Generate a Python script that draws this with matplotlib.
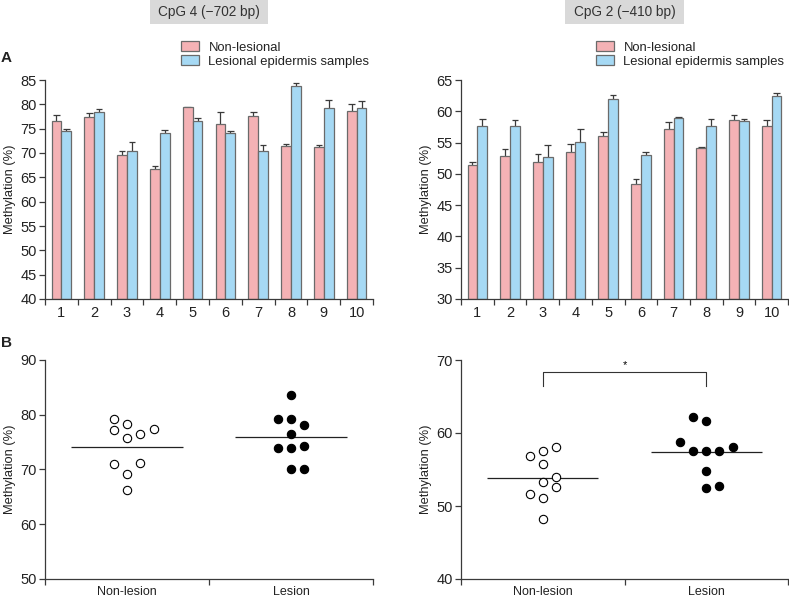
import numpy as np
import matplotlib
matplotlib.use('Agg')
import matplotlib.pyplot as plt
from matplotlib.patches import Patch, Rectangle

plt.rcParams['font.family'] = ['Liberation Sans', 'DejaVu Sans']
plt.rcParams['font.size'] = 9

PINK, BLUE, EDGE, AX = '#f4b2b5', '#a6d9f4', '#6a6a6a', '#3a3a3a'

# --- data: panel A (bar charts, mean + upper SD) ---
samples = [str(i) for i in range(1, 11)]
cpg4_non = [76.6, 77.4, 69.5, 66.7, 79.4, 76.0, 77.5, 71.5, 71.25, 78.6]
cpg4_non_err = [1.2, 0.8, 1.0, 0.7, 0.15, 2.4, 0.9, 0.3, 0.45, 1.4]
cpg4_les = [74.5, 78.4, 70.4, 74.1, 76.5, 74.1, 70.4, 83.7, 79.3, 79.3]
cpg4_les_err = [0.45, 0.7, 1.9, 0.7, 0.6, 0.5, 1.3, 0.6, 1.5, 1.3]

cpg2_non = [51.4, 52.8, 51.9, 53.5, 56.0, 48.4, 57.1, 54.15, 58.6, 57.7]
cpg2_non_err = [0.5, 1.1, 1.3, 1.2, 0.7, 0.75, 1.25, 0.08, 0.8, 0.9]
cpg2_les = [57.7, 57.7, 52.7, 55.05, 61.9, 53.0, 58.9, 57.7, 58.4, 62.4]
cpg2_les_err = [1.1, 0.9, 1.9, 2.05, 0.7, 0.45, 0.25, 1.1, 0.3, 0.6]

# --- data: panel B (individual values + group mean) ---
groups = ['Non-lesion', 'Lesion']
b4_non = [79.3, 78.3, 77.2, 77.4, 76.4, 75.8, 71.0, 71.2, 69.2, 66.3]
b4_les = [83.6, 79.2, 79.2, 78.1, 76.4, 73.9, 73.9, 74.3, 70.1, 70.1]
b4_means = [74.2, 75.9]
b2_non = [58.1, 57.6, 56.9, 55.7, 53.95, 53.3, 52.6, 51.7, 51.1, 48.2]
b2_les = [62.25, 61.7, 58.7, 58.1, 57.5, 57.5, 57.5, 54.8, 52.45, 52.7]
b2_means = [53.9, 57.4]

# swarm column slots (layout only)
slot4_non = [-1, 0, -1, 2, 1, 0, -1, 1, 0, 0]
slot4_les = [0, -1, 0, 1, 0, -1, 0, 1, 0, 1]
slot2_non = [1, 0, -1, 0, 1, 0, 1, -1, 0, 0]
slot2_les = [-1, 0, -2, 2, -1, 0, 1, 0, 0, 1]

fig = plt.figure(figsize=(7.89, 5.99), dpi=100)
W, H = 789, 599


def px_axes(x0, y0, x1, y1):
    return fig.add_axes([x0 / W, 1 - y1 / H, (x1 - x0) / W, (y1 - y0) / H])


def style(ax, xlab=10.5):
    for s in ['top', 'right']:
        ax.spines[s].set_visible(False)
    for s in ['left', 'bottom']:
        ax.spines[s].set_color(AX)
        ax.spines[s].set_linewidth(0.9)
    ax.tick_params(axis='y', length=4, width=0.9, color=AX, labelsize=10.5, pad=2, labelcolor='#222222')
    ax.tick_params(axis='x', which='major', length=0, labelsize=xlab, pad=5, labelcolor='#222222')
    ax.tick_params(axis='x', which='minor', length=4, width=0.9, color=AX)


def bars(ax, non, non_err, les, les_err, ylim, step):
    x = np.arange(1, len(samples) + 1)
    w = 0.3
    for vals, err, off, col in [(non, non_err, -w / 2, PINK), (les, les_err, w / 2, BLUE)]:
        vals, err = np.array(vals), np.array(err)
        ax.bar(x + off, vals - ylim[0], w, bottom=ylim[0], color=col, edgecolor=EDGE, linewidth=0.9, zorder=2)
        ax.vlines(x + off, vals, vals + err, color=AX, lw=0.9, zorder=1)
        ax.hlines(vals + err, x + off - 0.1, x + off + 0.1, color=AX, lw=0.9, zorder=1)
    ax.set_xlim(0.5, len(samples) + 0.5)
    ax.set_ylim(*ylim)
    ax.set_xticks(x)
    ax.set_xticklabels(samples)
    ax.set_xticks(np.arange(0.5, len(samples) + 1), minor=True)
    ax.set_yticks(np.arange(ylim[0], ylim[1] + 0.1, step))
    ax.set_ylabel('Methylation (%)', fontsize=9.3, labelpad=3, color='#222222')
    style(ax)


def dots(ax, non, les, means, snon, sles, ylim):
    dx = 0.081
    ax.scatter(0.5 + np.array(snon) * dx, non, s=36, facecolor='white', edgecolor='black', linewidth=0.8, zorder=3)
    ax.scatter(1.5 + np.array(sles) * dx, les, s=36, facecolor='black', edgecolor='black', linewidth=0.8, zorder=3)
    for i, m in enumerate(means):
        ax.hlines(m, i + 0.16, i + 0.84, color='#222222', lw=0.9, zorder=2)
    ax.set_xlim(0, 2)
    ax.set_ylim(*ylim)
    ax.set_xticks([0.5, 1.5])
    ax.set_xticklabels(groups)
    ax.set_xticks([0, 1, 2], minor=True)
    ax.set_yticks(np.arange(ylim[0], ylim[1] + 0.1, 10))
    ax.set_ylabel('Methylation (%)', fontsize=9.3, labelpad=3, color='#222222')
    style(ax, xlab=9)


axA1 = px_axes(45, 80, 373, 299)
bars(axA1, cpg4_non, cpg4_non_err, cpg4_les, cpg4_les_err, (40, 85), 5)
axA2 = px_axes(461, 80, 788, 299)
bars(axA2, cpg2_non, cpg2_non_err, cpg2_les, cpg2_les_err, (30, 65), 5)

axB1 = px_axes(45, 360, 373, 579)
dots(axB1, b4_non, b4_les, b4_means, slot4_non, slot4_les, (50, 90))
axB2 = px_axes(461, 360, 788, 579)
dots(axB2, b2_non, b2_les, b2_means, slot2_non, slot2_les, (40, 70))

# significance bracket
axB2.plot([0.5, 0.5, 1.5, 1.5], [66.4, 68.3, 68.3, 66.4], color='#333333', lw=0.8)
axB2.text(1.0, 68.6, '*', ha='center', va='bottom', fontsize=8)

# headers
for (x0, x1), label in [((150, 268), 'CpG 4 (\u2212702 bp)'), ((565, 684), 'CpG 2 (\u2212410 bp)')]:
    fig.patches.append(Rectangle((x0 / W, 1 - 24 / H), (x1 - x0) / W, 24 / H,
                                 transform=fig.transFigure, facecolor='#d9d9d9', edgecolor='none'))
    fig.text((x0 + x1) / 2 / W, 1 - 12 / H, label, ha='center', va='center', fontsize=9.8, color='#333333')

# legends
handles = [Patch(facecolor=PINK, edgecolor=EDGE, lw=0.9, label='Non-lesional'),
           Patch(facecolor=BLUE, edgecolor=EDGE, lw=0.9, label='Lesional epidermis samples')]
for x0 in [181, 596]:
    leg = fig.legend(handles=handles, loc='upper left', bbox_to_anchor=(x0 / W, 1 - 41 / H),
                     frameon=False, fontsize=9.4, handlelength=1.35, handleheight=0.8,
                     labelspacing=0.15, borderpad=0, borderaxespad=0, handletextpad=0.75)
    for t in leg.get_texts():
        t.set_color('#222222')

fig.text(1 / W, 1 - 58 / H, 'A', fontsize=11, fontweight='bold', va='center', color='#222222')
fig.text(1 / W, 1 - 343 / H, 'B', fontsize=11, fontweight='bold', va='center', color='#222222')

fig.savefig('out.png', dpi=100, facecolor='white')
